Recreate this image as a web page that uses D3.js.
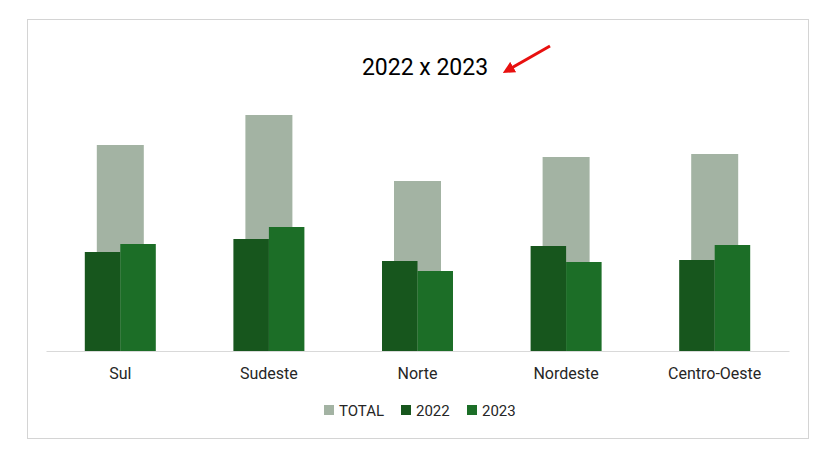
<!DOCTYPE html>
<html><head><meta charset="utf-8">
<script src="https://cdn.jsdelivr.net/npm/d3@7"></script>
<style>body{margin:0;background:#fff;}svg{display:block;}</style>
</head><body>
<svg id="c" width="820" height="451"></svg>
<script>
const categories = ["Sul","Sudeste","Norte","Nordeste","Centro-Oeste"];
const total = [206,236,170,194,197];
const v2022 = [99,112,90,105,91];
const v2023 = [107,124,80,89,106];
const seriesNames = ["TOTAL","2022","2023"];
const colors = {"TOTAL":"#a3b3a3","2022":"#17561d","2023":"#1c6e27"};

const svg = d3.select("#c");
const fontFam = "Roboto, 'Liberation Sans', sans-serif";
svg.append("rect").attr("x",27.5).attr("y",19.5).attr("width",781).attr("height",419)
  .attr("fill","#fff").attr("stroke","#d4d4d4");

const x = d3.scaleBand().domain(categories).range([46,789]).paddingInner(0).paddingOuter(0);
const y = d3.scaleLinear().domain([0,250]).range([351,101]);
const bw = 71;
const inner = d3.scaleBand().domain(["2022","2023"]).range([0,bw]);
const totalW = 47;

const g = svg.append("g");
g.selectAll(".tot").data(categories).join("rect")
  .attr("x",d=>x(d)+x.bandwidth()/2-totalW/2).attr("width",totalW)
  .attr("y",(d,i)=>y(total[i])).attr("height",(d,i)=>y(0)-y(total[i]))
  .attr("fill",colors.TOTAL);
[["2022",v2022],["2023",v2023]].forEach(([k,vals])=>{
  g.selectAll(".s"+k).data(categories).join("rect")
    .attr("x",d=>x(d)+x.bandwidth()/2-bw/2+inner(k)).attr("width",inner.bandwidth())
    .attr("y",(d,i)=>y(vals[i])).attr("height",(d,i)=>y(0)-y(vals[i]))
    .attr("fill",colors[k]);
});

const ax = svg.append("g").attr("transform",`translate(0,${y(0)})`)
  .call(d3.axisBottom(x).tickSize(0).tickPadding(17));
ax.select(".domain").attr("stroke","#d9d9d9");
ax.selectAll("text").attr("font-family",fontFam).attr("font-size",16).attr("fill","#262626");

svg.append("text").attr("x",425).attr("y",75).attr("text-anchor","middle")
  .attr("font-family",fontFam).attr("font-size",23).attr("fill","#000").text("2022 x 2023");

svg.append("defs").append("marker").attr("id","ah").attr("viewBox","0 0 10 10")
  .attr("refX",5).attr("refY",5).attr("markerWidth",4).attr("markerHeight",4).attr("orient","auto")
  .append("path").attr("d","M0,0L10,5L0,10z").attr("fill","#e8100f");
svg.append("line").attr("x1",550).attr("y1",46).attr("x2",508).attr("y2",70)
  .attr("stroke","#e8100f").attr("stroke-width",3).attr("marker-end","url(#ah)");

const legX = [324,401,467];
const leg = svg.append("g");
seriesNames.forEach((s,i)=>{
  leg.append("rect").attr("x",legX[i]).attr("y",405).attr("width",10).attr("height",10).attr("fill",colors[s]);
  leg.append("text").attr("x",legX[i]+15).attr("y",416).attr("font-family",fontFam)
    .attr("font-size",15).attr("fill","#262626").text(s);
});
</script>
</body></html>
